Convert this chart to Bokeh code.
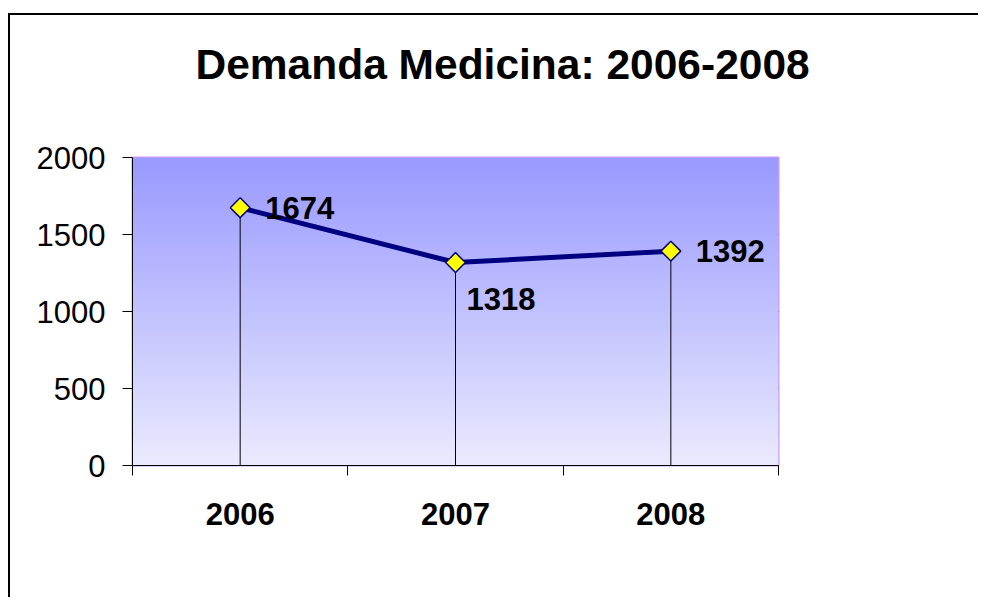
import numpy as np
from bokeh.plotting import figure
from bokeh.models import ColumnDataSource, LabelSet, Title, FixedTicker, Range1d
from bokeh.core.properties import value
from bokeh.embed import file_html
from bokeh.resources import INLINE

# ---- data ----
title_text = "Demanda Medicina: 2006-2008"
years = ["2006", "2007", "2008"]
demand = [1674, 1318, 1392]
y_ticks = [0, 500, 1000, 1500, 2000]

# label placement (pixels)
label_dx = [25, 11, 25]
label_dy = [0, -36, 0]

FONT = "Liberation Sans"

xs = np.arange(len(years)) + 0.5
src = ColumnDataSource(dict(
    x=xs, y=demand, base=[y_ticks[0]] * len(years),
    label=[str(v) for v in demand], dx=label_dx, dy=label_dy,
))

p = figure(
    frame_width=646, frame_height=308,
    x_range=Range1d(0, len(years)), y_range=Range1d(y_ticks[0], y_ticks[-1]),
    output_backend="svg", toolbar_location=None,
    min_border_left=122, min_border_right=200,
    min_border_top=142, min_border_bottom=132,
)
p.styles = {
    "margin-top": "13px", "margin-left": "8px",
    "border-top": "2px solid black", "border-left": "2px solid black",
}
p.background_fill_color = "white"
p.border_fill_color = "white"
p.outline_line_color = "#cc99ff"
p.outline_line_width = 2

# title
p.title.text = title_text
p.title.text_font = FONT
p.title.text_font_size = "42.5px"
p.title.text_font_style = "bold"
p.title.text_color = "black"
p.title.align = "left"
p.title.offset = 63
p.title.standoff = 45
# blank spacer panel between title and plot area
p.add_layout(Title(text=" ", text_font_size="12px", standoff=31), "above")

# gradient background
n = 256
t = np.linspace(0, 1, n)
top = np.array([153, 153, 255])
bot = np.array([234, 234, 254])
cols = (bot + (top - bot) * t[:, None]).round().astype(np.uint8)
img = np.zeros((n, 1), dtype=np.uint32)
view = img.view(dtype=np.uint8).reshape((n, 1, 4))
view[:, 0, 0] = cols[:, 0]
view[:, 0, 1] = cols[:, 1]
view[:, 0, 2] = cols[:, 2]
view[:, 0, 3] = 255
p.image_rgba(image=[img], x=0, y=y_ticks[0], dw=len(years), dh=y_ticks[-1] - y_ticks[0])

# grid
p.xgrid.visible = False
p.ygrid.ticker = FixedTicker(ticks=y_ticks[1:-1])
p.ygrid.grid_line_color = "#222222"
p.ygrid.grid_line_width = 1

# drop lines, line, markers
p.segment(x0="x", y0="base", x1="x", y1="y", source=src, line_color="black", line_width=1)
p.line(x="x", y="y", source=src, line_color="#000080", line_width=5)
p.scatter(x="x", y="y", source=src, marker="square", size=14, angle=np.pi / 4,
          fill_color="#ffff00", line_color="#000080", line_width=1.5)

labels = LabelSet(x="x", y="y", text="label", x_offset="dx", y_offset="dy", source=src,
                  text_font=value(FONT), text_font_size=value("31px"),
                  text_font_style=value("bold"),
                  text_color="black", text_align="left", text_baseline="middle")
p.add_layout(labels)

# y axis
ya = p.yaxis[0]
ya.ticker = FixedTicker(ticks=y_ticks)
ya.major_label_text_font = FONT
ya.major_label_text_font_size = "31px"
ya.major_label_text_color = "black"
ya.major_tick_out = 10
ya.major_tick_in = 0
ya.minor_tick_line_color = None
ya.axis_line_color = "black"
ya.major_tick_line_color = "black"
ya.major_label_standoff = 17

# x axis
xa = p.xaxis[0]
xa.ticker = FixedTicker(ticks=list(xs), minor_ticks=list(range(len(years) + 1)))
xa.major_label_overrides = {float(x): y for x, y in zip(xs, years)}
xa.major_label_text_font = FONT
xa.major_label_text_font_size = "31px"
xa.major_label_text_font_style = "bold"
xa.major_label_text_color = "black"
xa.major_tick_out = 0
xa.major_tick_in = 0
xa.minor_tick_out = 10
xa.minor_tick_in = 0
xa.minor_tick_line_color = "black"
xa.axis_line_color = "black"
xa.major_label_standoff = 27

open("out.html", "w").write(file_html(p, INLINE))
